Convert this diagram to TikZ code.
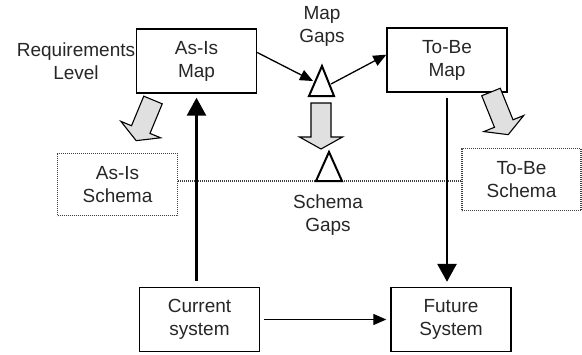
\documentclass[tikz,border=0pt]{standalone}
\usepackage{fontspec}
\setmainfont{Liberation Sans}
\usetikzlibrary{arrows.meta,calc}
\newcommand{\grayarr}[4]{%
  \begin{scope}[shift={(#1,#2)},rotate=#3]
    \filldraw[garrow] (-10,0) -- (-10,#4-12) -- (-21.5,#4-12) -- (0,#4) -- (21.5,#4-12) -- (10,#4-12) -- (10,0) -- cycle;
  \end{scope}}
\begin{document}
\begin{tikzpicture}[x=1bp,y=-1bp,
  every node/.style={font=\fontsize{19bp}{23bp}\selectfont, text=black!85, align=center, inner sep=0pt},
  mapbox/.style={draw=black, line width=1.4bp, minimum width=120bp, minimum height=64bp},
  schemabox/.style={draw=black!75, dash pattern=on 1bp off 1bp, line width=1.1bp, minimum width=120bp, minimum height=62bp},
  dotline/.style={draw=black!75, dash pattern=on 1bp off 1bp, line width=1.1bp},
  tri/.style={draw=black, fill=white, line width=2bp, line join=miter},
  garrow/.style={draw=black, fill=black!12, line width=1.1bp, line join=miter},
  thinarrow/.style={draw=black, line width=1.3bp, -{Triangle[length=13bp,width=11bp]}},
  thickarrow/.style={draw=black, line width=2.8bp, -{Triangle[length=18bp,width=19bp]}},
]
\useasboundingbox (0,0) rectangle (582,354);

% boxes
\node[mapbox] (asis) at (196.5,61) {As-Is\\Map};
\node[mapbox] (tobe) at (447,60) {To-Be\\Map};
\node[mapbox] (cur) at (199.5,319.5) {Current\\system};
\node[mapbox] (fut) at (451,319.5) {Future\\System};
\node[schemabox] (asch) at (117.5,184.5) {As-Is\\Schema};
\node[schemabox, minimum width=119bp] (tsch) at (521.5,179.5) {To-Be\\Schema};

% labels
\node (req) at (76,61) {Requirements\\Level};
\node (mapgaps) at (322,26) {Map\\Gaps};
\node (schgaps) at (328,215) {Schema\\Gaps};

% dotted schema line
\coordinate (dl) at (0,181);
\draw[dotline] (asch.east |- dl) -- (tsch.west |- dl);

% gray block arrows
\grayarr{153}{100}{-22.5}{44}
\grayarr{321}{103}{0}{46}
\grayarr{491}{92}{22}{46}

% vertical thick arrows
\draw[thickarrow] ($(cur.north -| asis.south)+(0,-6)$) -- ($(asis.south)+(0,4)$);
\draw[thickarrow] ($(tobe.south)+(0,5)$) -- ($(fut.north -| tobe.south)+(0,-5)$);

% current -> future
\draw[thinarrow] ($(cur.east)+(4,0)$) -- ($(fut.west)+(-4,0)$);

% gap triangles
\coordinate (g1in) at (313,81);
\coordinate (g1out) at (331,84);
\draw[thinarrow] (asis.8) -- (g1in);
\draw[thinarrow] (g1out) -- (tobe.175);
\draw[tri] (322,66) -- (334,96) -- (309,96) -- cycle;
\draw[tri] (329,152) -- (342,181) -- (316,181) -- cycle;
\end{tikzpicture}
\end{document}
